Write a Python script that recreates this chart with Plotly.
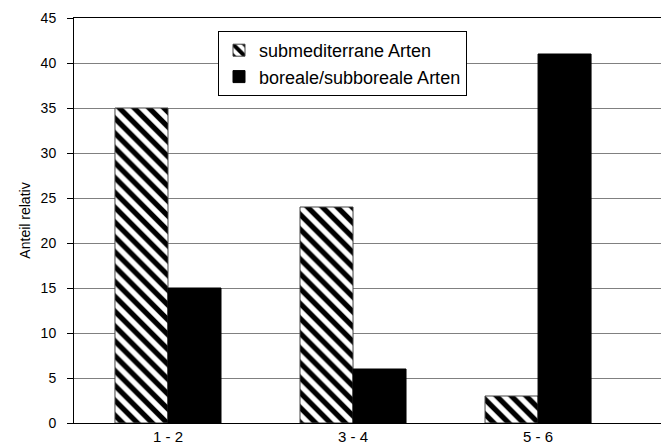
import plotly.graph_objects as go

categories = ["1 - 2", "3 - 4", "5 - 6"]
submediterran = [35, 24, 3]
boreal = [15, 6, 41]
series_names = ["submediterrane Arten", "boreale/subboreale Arten"]
y_ticks = [0, 5, 10, 15, 20, 25, 30, 35, 40, 45]

fig = go.Figure()
fig.add_trace(go.Bar(
    x=categories, y=submediterran, name=series_names[0],
    marker=dict(color="white", line=dict(color="#444444", width=1),
                pattern=dict(shape="\\", fgcolor="#000000", bgcolor="#ffffff",
                             fgopacity=1, fillmode="replace",
                             size=10.5, solidity=0.5)),
))
fig.add_trace(go.Bar(
    x=categories, y=boreal, name=series_names[1],
    marker=dict(color="black", line=dict(color="black", width=1)),
))

# page body has an 8px margin; figure is offset accordingly
fig.update_layout(
    width=669, height=445,
    margin=dict(l=66, r=0, t=10, b=30),
    paper_bgcolor="white", plot_bgcolor="white",
    barmode="group", bargap=0.427, bargroupgap=0,
    font=dict(family="Liberation Sans, Arial", size=13, color="black"),
    showlegend=True,
    legend=dict(x=(210 - 66) / 603, y=(415 - 23) / 405, xanchor="left", yanchor="top",
                bgcolor="white", bordercolor="black", borderwidth=1,
                font=dict(size=18), itemwidth=30,
                traceorder="normal"),
    xaxis=dict(type="category", range=[-0.508, 2.751], showline=True,
               linecolor="black", linewidth=1, mirror=True, ticks="",
               showgrid=False, tickfont=dict(size=15), automargin=False),
    yaxis=dict(range=[0, 45], tickvals=y_ticks, showline=True,
               linecolor="black", linewidth=1, ticks="outside", ticklen=6,
               tickcolor="black", showgrid=True, gridcolor="#808080",
               gridwidth=1, zeroline=False, automargin=False,
               ticklabelstandoff=8,
               title=dict(text="Anteil relativ", font=dict(size=14), standoff=6),
               tickfont=dict(size=14)),
)

fig.write_html("out.html")
